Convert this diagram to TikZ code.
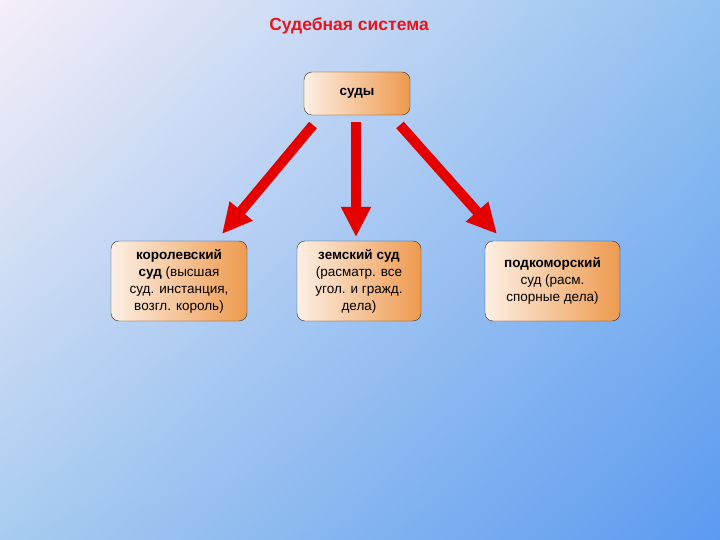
\documentclass[tikz,border=0pt]{standalone}
\usepackage{fontspec}
\setmainfont{Liberation Sans}
\usetikzlibrary{arrows.meta,shadings}
\definecolor{ul}{HTML}{F6EEF8}
\definecolor{ur}{HTML}{93C2F0}
\definecolor{ll}{HTML}{A8CCF0}
\definecolor{lr}{HTML}{5C9AF0}
\definecolor{boxor}{HTML}{EE9A4E}
\definecolor{boxlt}{HTML}{FCEFE4}
\definecolor{titlered}{HTML}{E8141C}
\begin{document}
\begin{tikzpicture}[x=1pt,y=-1pt,
  box/.style={draw=black!80, rounded corners=8pt, left color=boxlt, right color=boxor, align=center, font=\fontsize{13.5}{17}\selectfont, inner sep=2pt},
  redarrow/.style={line width=10pt, draw=red!90!black, -{Triangle[width=28pt,length=30pt]}}]
\shade[upper left=ul, upper right=ur, lower left=ll, lower right=lr] (0,0) rectangle (720,540);
\useasboundingbox (0,0) rectangle (720,540);
\node[text=titlered, font=\bfseries\fontsize{17.5}{20}\selectfont] (title) at (349,26) {Судебная система};
\node[box, minimum width=106pt, minimum height=43pt] (top) at (357,93.5) {\textbf{суды}};
\node[box, minimum width=136pt, minimum height=80pt] (k) at (179,281) {\textbf{королевский}\\\textbf{суд} (высшая\\суд. инстанция,\\возгл. король)};
\node[box, minimum width=124pt, minimum height=80pt] (z) at (359,281) {\textbf{земский суд}\\(расматр. все\\угол. и гражд.\\дела)};
\node[box, minimum width=135pt, minimum height=80pt] (p) at (552.5,281) {\textbf{подкоморский}\\суд (расм.\\спорные дела)};
\coordinate (a1s) at (313,125); \coordinate (a1e) at (222,234);
\coordinate (a2s) at (356,122); \coordinate (a2e) at (356,237);
\coordinate (a3s) at (400,125); \coordinate (a3e) at (497,234);
\draw[redarrow] (a1s) -- (a1e);
\draw[redarrow] (a2s) -- (a2e);
\draw[redarrow] (a3s) -- (a3e);
\end{tikzpicture}
\end{document}
